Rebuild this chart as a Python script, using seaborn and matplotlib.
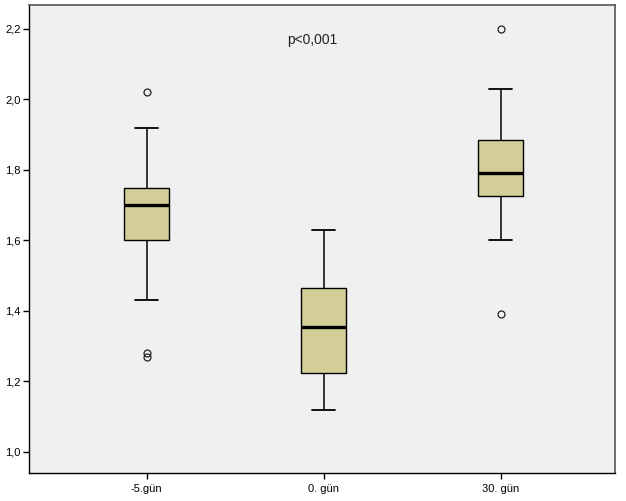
import matplotlib
matplotlib.use("Agg")
import matplotlib.pyplot as plt
import seaborn as sns
import pandas as pd

# Category labels and per-group sample values (read from the box summary)
categories = ["-5.gün", "0. gün", "30. gün"]
values_m5 = [1.27, 1.28, 1.43, 1.52, 1.57, 1.60, 1.62, 1.65, 1.67, 1.69, 1.70,
             1.71, 1.72, 1.73, 1.74, 1.75, 1.78, 1.82, 1.86, 1.92, 2.02]
values_0 = [1.12, 1.15, 1.18, 1.20, 1.22, 1.225, 1.25, 1.28, 1.30, 1.33, 1.355,
            1.38, 1.40, 1.42, 1.45, 1.465, 1.50, 1.54, 1.58, 1.61, 1.63]
values_30 = [1.39, 1.60, 1.64, 1.68, 1.71, 1.725, 1.74, 1.75, 1.77, 1.78, 1.79,
             1.80, 1.82, 1.84, 1.86, 1.885, 1.91, 1.95, 1.99, 2.03, 2.20]
yticks = [1.0, 1.2, 1.4, 1.6, 1.8, 2.0, 2.2]
ytick_labels = ["1,0", "1,2", "1,4", "1,6", "1,8", "2,0", "2,2"]
annotation = "p<0,001"

df = pd.DataFrame({
    "grp": [categories[0]] * len(values_m5) + [categories[1]] * len(values_0)
           + [categories[2]] * len(values_30),
    "val": values_m5 + values_0 + values_30,
})

sns.set_style("ticks")
plt.rcParams["font.family"] = ["Liberation Sans", "DejaVu Sans"]

fig = plt.figure(figsize=(6.26, 5.01), dpi=100)
fig.patch.set_facecolor("white")
ax = fig.add_axes([29 / 626, 28 / 501, (615 - 29) / 626, (473 - 5) / 501])
ax.set_facecolor("#F0F0F0")

sns.boxplot(data=df, x="grp", y="val", order=categories, ax=ax,
            color="#D3CE97", saturation=1, linecolor="black", linewidth=1.0,
            width=0.254, fliersize=5,
            medianprops=dict(linewidth=2.4, color="black"),
            whiskerprops=dict(linewidth=1.1),
            capprops=dict(linewidth=1.3),
            flierprops=dict(marker="o", markerfacecolor="none",
                            markeredgecolor="#222222", markeredgewidth=0.9))

ax.set_xlim(-0.665, 2.646)
ax.set_ylim(0.940, 2.268)
ax.set_yticks(yticks)
ax.set_yticklabels(ytick_labels)
ax.set_xlabel("")
ax.set_ylabel("")
ax.tick_params(axis="both", direction="out", length=4, width=1, color="black",
               labelsize=8, labelcolor="black")
ax.tick_params(axis="y", pad=2)
ax.tick_params(axis="x", pad=4)
ax.grid(False)

for side in ["left", "bottom"]:
    ax.spines[side].set_color("black")
    ax.spines[side].set_linewidth(1.0)
for side in ["top", "right"]:
    ax.spines[side].set_visible(True)
    ax.spines[side].set_color("#555555")
    ax.spines[side].set_linewidth(1.2)

ax.text(0.935, 2.168, annotation, ha="center", va="center", fontsize=10,
        color="#222222")

fig.savefig("out.png", dpi=100)
